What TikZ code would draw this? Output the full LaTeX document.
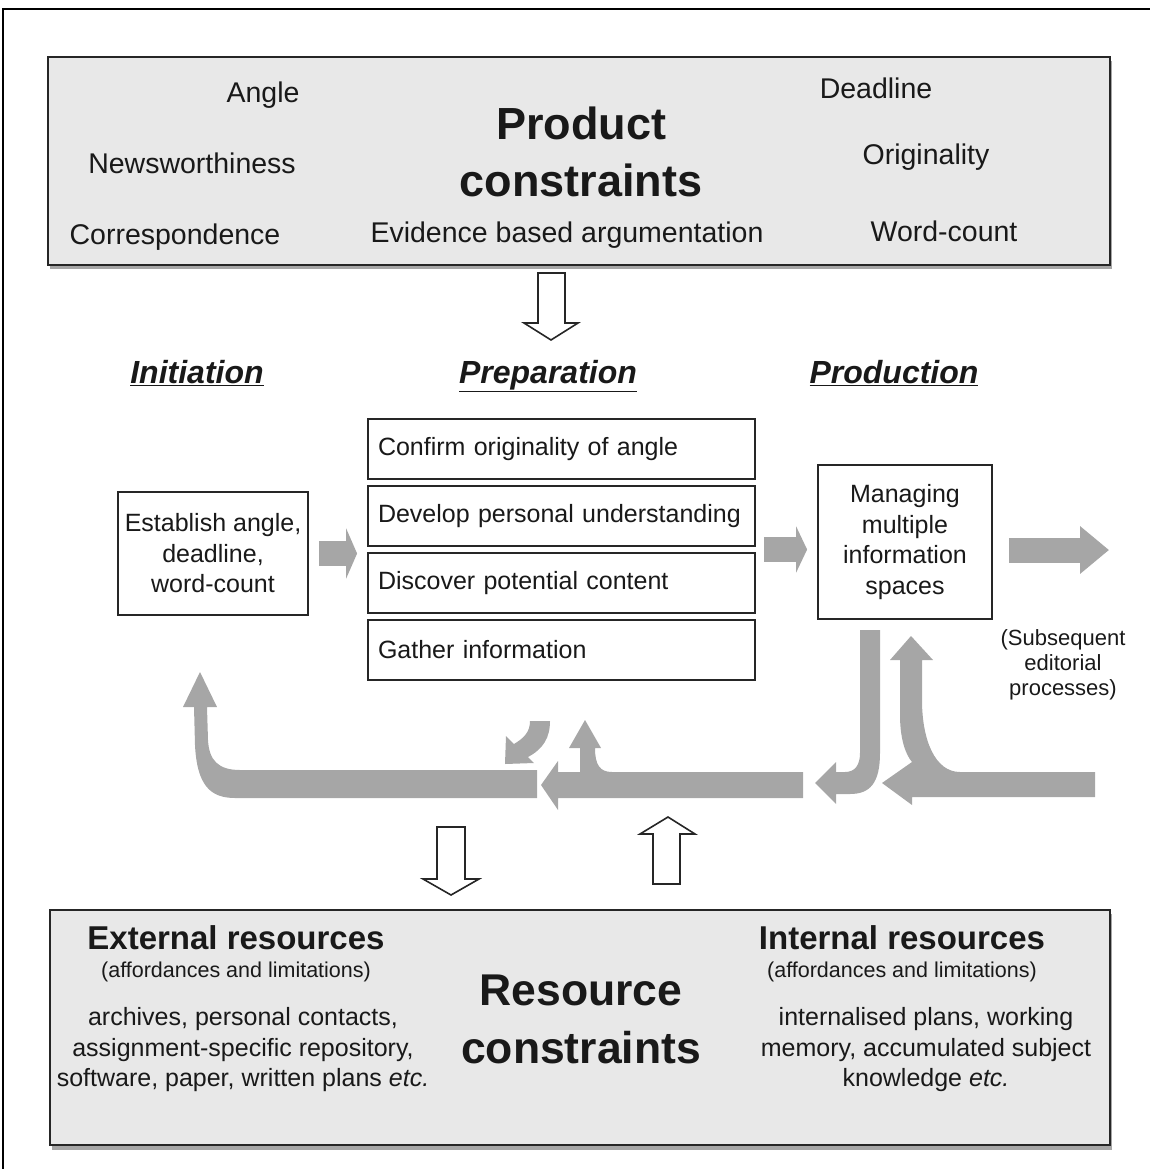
\documentclass[tikz,border=0pt]{standalone}
\usepackage{fontspec}
\setmainfont{Liberation Sans}
\usetikzlibrary{arrows.meta,calc}

\definecolor{arrowgray}{gray}{0.65}
\definecolor{panelgray}{gray}{0.91}

\tikzset{
  panel/.style={draw=black!85, line width=2pt, fill=panelgray},
  box/.style={draw=black!85, line width=1.8pt, fill=white, align=center, inner sep=0pt},
  prepbox/.style={box, text width=367pt, inner xsep=10pt, minimum height=60pt, align=left},
  flow/.style={draw=arrowgray, line width=25pt},
  hollow/.style={draw=black!85, fill=white, line width=1.6pt},
  phase/.style={anchor=base, font=\fontsize{32}{36}\selectfont\bfseries\itshape},
  big/.style={align=center, font=\fontsize{45}{57.5}\selectfont\bfseries},
  tag/.style={anchor=base, font=\fontsize{28.5}{34}\selectfont},
  res/.style={anchor=base, font=\fontsize{33}{38}\selectfont\bfseries},
  note/.style={anchor=base, font=\fontsize{21.5}{25}\selectfont},
}

\begin{document}
\begin{tikzpicture}[x=1pt,y=-1pt,font=\fontsize{25}{30.5}\selectfont,text=black!90]
    \useasboundingbox (0,0) rectangle (1150,1169);
    \draw[line width=2pt] (3,1169) -- (3,9) -- (1150,9);

    % product constraints panel
    \fill[black!35] (50,61) rectangle (1112,269);
    \draw[panel] (48,57) rectangle (1110,265);
    \node[tag] (angle) at (263,103) {Angle};
    \node[tag] (news) at (192,174) {Newsworthiness};
    \node[tag] (corr) at (175,244) {Correspondence};
    \node[tag] (deadline) at (876,99) {Deadline};
    \node[tag] (orig) at (926,165) {Originality};
    \node[tag] (words) at (944,241) {Word-count};
    \node[tag] (evid) at (567,242) {Evidence based argumentation};
    \node[big] (product) at (581,152) {Product\\constraints};

    % hollow arrow down into preparation
    \draw[hollow] (538,273) -- (565,273) -- (565,323) -- (578,323) -- (551,340) -- (524,323) -- (538,323) -- cycle;

    % the three phases
    \node[phase] (init) at (197,383) {\underline{Initiation}};
    \node[phase] (prep) at (548,383) {\underline{Preparation}};
    \node[phase] (prodh) at (894,383) {\underline{Production}};

    \node[box, minimum width=190pt, minimum height=123pt] (initbox) at (213,553.5)
        {Establish angle,\\deadline,\\word-count};
    \foreach \t [count=\i] in {Confirm originality of angle, Develop personal understanding,
        Discover potential content, Gather information}
        \node[prepbox] (prep\i) at (561.5,382+67*\i) {\t};
    \node[box, minimum width=174pt, minimum height=154pt] (prod) at (905,542)
        {Managing\\multiple\\information\\spaces};
    \coordinate (pe) at ($(prep2.south east)!.5!(prep3.north east)$);
    \coordinate (out) at (1109,550);

    \draw[flow, -{Triangle[width=50pt,length=11pt]}] (initbox.east) ++(10,0)
        -- ($(initbox.east -| prep3.west)+(-10,0)$);
    \draw[flow, -{Triangle[width=46pt,length=11pt]}] (pe) ++(8,0)
        -- ($(pe -| prod.west)+(-10,0)$);
    \draw[flow, -{Triangle[width=46pt,length=29pt]}] (prod.east |- out) ++(16,0) -- (out);

    \node[align=center, font=\fontsize{22}{25}\selectfont] (subs) at (1063,665)
        {(Subsequent\\editorial\\processes)};

    % feedback arrows
    \fill[arrowgray] (537,770) -- (240,770) .. controls (218,770) and (209,760) .. (208,740)
        -- (207,707) -- (217,707) -- (200,672) -- (183,707) -- (194,707) -- (195,745)
        .. controls (197,785) and (210,798) .. (235,798) -- (537,798) -- cycle;
    \fill[arrowgray] (803,772) -- (612,772) .. controls (600,772) and (595,765) .. (595,748)
        -- (601,748) -- (585,720) -- (569,748) -- (580,748) -- (580,772) -- (558,772)
        -- (558,761) -- (541,785) -- (558,810) -- (558,798) -- (803,798) -- cycle;
    \fill[arrowgray] (530,721) -- (550,721) .. controls (550,738) and (543,749) .. (528,757)
        -- (534,763) -- (505,764) -- (506,736) -- (514,744)
        .. controls (524,738) and (530,732) .. (530,721) -- cycle;
    \fill[arrowgray] (860,630) -- (880,630) -- (880,753) .. controls (880,783) and (870,794) .. (850,794)
        -- (836,794) -- (836,804) -- (815,783) -- (836,762) -- (836,772) -- (845,772)
        .. controls (855,772) and (860,765) .. (860,753) -- cycle;
    \fill[arrowgray] (1095,772) -- (960,772) .. controls (935,772) and (922,740) .. (922,700)
        -- (922,660) -- (933,660) -- (911,636) -- (890,660) -- (900,660) -- (900,715)
        .. controls (900,740) and (906,755) .. (912,762) -- (882,783) -- (912,805)
        -- (912,797) -- (1095,797) -- cycle;

    % hollow arrows to and from the resources
    \draw[hollow] (437,827) -- (465,827) -- (465,879) -- (479,879) -- (451,895) -- (423,879) -- (437,879) -- cycle;
    \draw[hollow] (653,884) -- (680,884) -- (680,834) -- (695,834) -- (668,817) -- (640,834) -- (653,834) -- cycle;

    % resource constraints panel
    \fill[black!35] (52,914) rectangle (1112,1150);
    \draw[panel] (50,910) rectangle (1110,1145);
    \node[res] (ext) at (236,949) {External resources};
    \node[note] (extn) at (236,977) {(affordances and limitations)};
    \node[align=center] (extl) at (243,1050)
        {archives, personal contacts,\\assignment-specific repository,\\software, paper, written plans \textit{etc.}};
    \node[res] (int) at (902,949) {Internal resources};
    \node[note] (intn) at (902,977) {(affordances and limitations)};
    \node[align=center] (intl) at (926,1050)
        {internalised plans, working\\memory, accumulated subject\\knowledge \textit{etc.}};
    \node[big, font=\fontsize{44.5}{58}\selectfont\bfseries] (resource) at (581,1019) {Resource\\constraints};
\end{tikzpicture}
\end{document}
